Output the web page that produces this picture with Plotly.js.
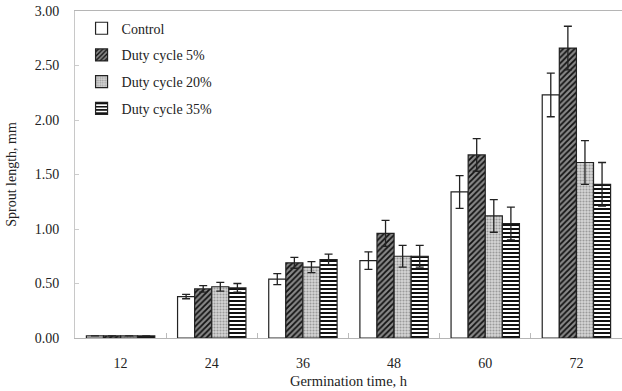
<!DOCTYPE html>
<html>
<head>
<meta charset="utf-8">
<script src="https://cdn.plot.ly/plotly-3.0.1.min.js"></script>
<style>html,body{margin:0;padding:0;background:#fff;}#chart{width:622px;height:391px;}</style>
</head>
<body>
<div id="chart"></div>
<script>
var categories = ["12", "24", "36", "48", "60", "72"];
var seriesNames = ["Control", "Duty cycle 5%", "Duty cycle 20%", "Duty cycle 35%"];
var control = [0.02, 0.38, 0.54, 0.71, 1.34, 2.23];
var controlErr = [0, 0.02, 0.05, 0.08, 0.15, 0.20];
var duty5 = [0.02, 0.45, 0.69, 0.96, 1.68, 2.66];
var duty5Err = [0, 0.03, 0.05, 0.12, 0.15, 0.20];
var duty20 = [0.02, 0.47, 0.65, 0.75, 1.12, 1.61];
var duty20Err = [0, 0.04, 0.05, 0.10, 0.15, 0.20];
var duty35 = [0.02, 0.46, 0.72, 0.75, 1.05, 1.41];
var duty35Err = [0, 0.04, 0.05, 0.10, 0.15, 0.20];
var yTicks = [0, 0.5, 1, 1.5, 2, 2.5, 3];
var yTickText = ["0.00", "0.50", "1.00", "1.50", "2.00", "2.50", "3.00"];

var values = [control, duty5, duty20, duty35];
var errs = [controlErr, duty5Err, duty20Err, duty35Err];
var patterns = [
  {shape: "", bgcolor: "#ffffff"},
  {shape: "/", fgcolor: "#111111", bgcolor: "#888888", size: 4, solidity: 0.45},
  {shape: ".", fgcolor: "#9a9a9a", bgcolor: "#d6d6d6", size: 3, solidity: 0.4},
  {shape: "-", fgcolor: "#111111", bgcolor: "#ffffff", size: 4, solidity: 0.5}
];
var fills = ["#ffffff", "#888888", "#d6d6d6", "#ffffff"];

var traces = seriesNames.map(function (name, i) {
  return {
    type: "bar",
    name: name,
    x: categories,
    y: values[i],
    legendgroup: "g" + i,
    marker: {
      color: fills[i],
      line: {color: "#222222", width: 1.2},
      pattern: patterns[i]
    },
    error_y: {
      type: "data",
      array: errs[i],
      visible: true,
      color: "#222222",
      thickness: 1.3,
      width: 4
    }
  };
});

var font = {family: "Liberation Serif, Times New Roman, serif", color: "#222222", size: 14};

var layout = {
  width: 622,
  height: 391,
  margin: {l: 75, r: 0, t: 11, b: 53},
  paper_bgcolor: "#ffffff",
  plot_bgcolor: "#ffffff",
  font: font,
  barmode: "group",
  bargap: 0.25,
  bargroupgap: 0,
  showlegend: true,
  legend: {
    x: 0.012, y: 0.995, xanchor: "left", yanchor: "top",
    bgcolor: "rgba(0,0,0,0)",
    font: {family: font.family, size: 14, color: "#222222"},
    traceorder: "grouped",
    tracegroupgap: 5.5,
    itemwidth: 30
  },
  xaxis: {
    type: "category",
    tickson: "boundaries",
    ticks: "inside",
    ticklen: 5,
    tickcolor: "#bbbbbb",
    showline: true,
    mirror: true,
    linecolor: "#b5b5b5",
    linewidth: 1,
    showgrid: false,
    zeroline: false,
    ticklabelstandoff: 12,
    tickfont: {family: font.family, size: 14, color: "#222222"},
    title: {text: "Germination time, h", font: {family: font.family, size: 14.5, color: "#222222"}, standoff: 6}
  },
  yaxis: {
    range: [0, 3],
    tickvals: yTicks,
    ticktext: yTickText,
    ticks: "inside",
    ticklen: 4,
    tickcolor: "#cccccc",
    showline: true,
    linecolor: "#c8c8c8",
    showgrid: false,
    zeroline: false,
    ticklabelstandoff: 12,
    tickfont: {family: font.family, size: 14, color: "#222222"},
    title: {text: "Sprout length, mm", font: {family: font.family, size: 14, color: "#222222"}, standoff: 14}
  }
};

Plotly.newPlot("chart", traces, layout, {displayModeBar: false, staticPlot: true});
</script>
</body>
</html>
